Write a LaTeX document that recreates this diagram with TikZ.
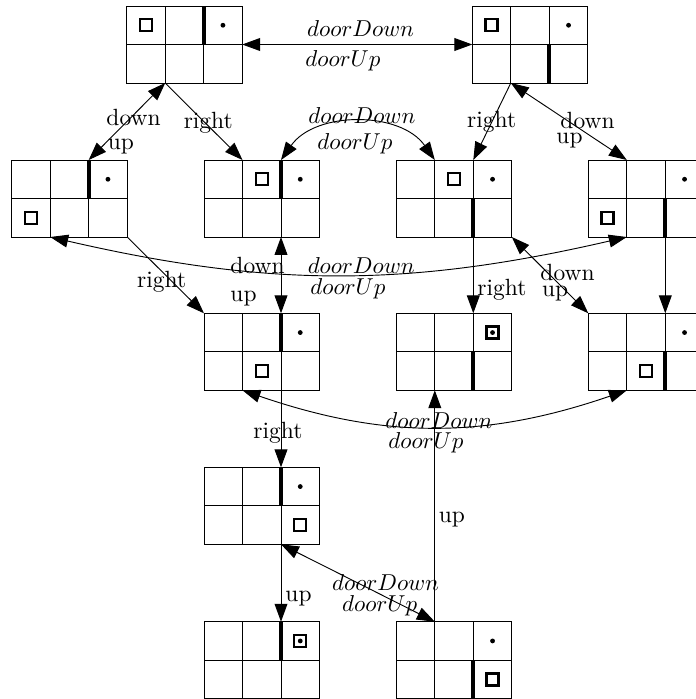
\documentclass[tikz,border=0pt]{standalone}
\usetikzlibrary{arrows.meta,calc}
\begin{document}
\begin{tikzpicture}[x=0.4348pt, y=-0.4348pt,
  state/.style={rectangle, draw, line width=0.4pt, minimum width=50.22pt,
    minimum height=33.48pt, inner sep=0pt, outer sep=0pt, anchor=north west},
  gridline/.style={line width=0.4pt},
  wall/.style={line width=1.87pt},
  agent/.style={line width=0.95pt},
  lbl/.style={inner sep=0pt, anchor=base west, font=\fontsize{10.2}{12}\selectfont},
  oneway/.style={line width=0.4pt, -{Triangle[length=7.8pt,width=5.6pt]}},
  twoway/.style={line width=0.4pt,
    {Triangle[length=7.8pt,width=5.6pt]}-{Triangle[length=7.8pt,width=5.6pt]}}]
\newcommand\cellgrid[1]{%
  \draw[gridline] ([xshift=16.74pt]#1.north west) -- ([xshift=16.74pt]#1.south west);
  \draw[gridline] ([xshift=33.48pt]#1.north west) -- ([xshift=33.48pt]#1.south west);
  \draw[gridline] (#1.west) -- (#1.east);}
% wall between the second and third column, in row #2 (0 = top, 1 = bottom)
\newcommand\wallat[2]{%
  \draw[wall] ([xshift=33.48pt,yshift=-#2*16.74pt]#1.north west) -- ++(0pt,-16.74pt);}
\newcommand\agentat[3]{%
  \draw[agent] ([xshift=#2*16.74pt+8.37pt,yshift=-#3*16.74pt-8.37pt]#1.north west)
    +(-2.6pt,-2.6pt) rectangle +(2.6pt,2.6pt);}
\newcommand\goalat[3]{%
  \fill ([xshift=#2*16.74pt+8.37pt,yshift=-#3*16.74pt-8.37pt]#1.north west)
    circle[radius=1.05pt];}

\useasboundingbox (0,0) rectangle (696,699);
\clip (0,0) rectangle (696,699);

% states
\node[state] (A) at (126.7,6) {};
\node[state] (B) at (472.3,6) {};
\node[state] (C) at (11.7,160) {};
\node[state] (D) at (204,160) {};
\node[state] (E) at (396.3,160) {};
\node[state] (F) at (588.3,160) {};
\node[state] (G) at (204,313.3) {};
\node[state] (H) at (396.3,313.3) {};
\node[state] (I) at (588.3,313.3) {};
\node[state] (J) at (204,467.3) {};
\node[state] (K) at (204,621.7) {};
\node[state] (L) at (396.3,621.7) {};

\foreach \s in {A,B,C,D,E,F,G,H,I,J,K,L} {\cellgrid{\s}}

\wallat{A}{0} \agentat{A}{0}{0} \goalat{A}{2}{0}
\wallat{B}{1} \agentat{B}{0}{0} \goalat{B}{2}{0}
\wallat{C}{0} \agentat{C}{0}{1} \goalat{C}{2}{0}
\wallat{D}{0} \agentat{D}{1}{0} \goalat{D}{2}{0}
\wallat{E}{1} \agentat{E}{1}{0} \goalat{E}{2}{0}
\wallat{F}{1} \agentat{F}{0}{1} \goalat{F}{2}{0}
\wallat{G}{0} \agentat{G}{1}{1} \goalat{G}{2}{0}
\wallat{H}{1} \agentat{H}{2}{0} \goalat{H}{2}{0}
\wallat{I}{1} \agentat{I}{1}{1} \goalat{I}{2}{0}
\wallat{J}{0} \agentat{J}{2}{1} \goalat{J}{2}{0}
\wallat{K}{0} \agentat{K}{2}{0} \goalat{K}{2}{0}
\wallat{L}{1} \agentat{L}{2}{1} \goalat{L}{2}{0}

% transitions
\draw[twoway] (A.east) -- (B.west);
\draw[twoway] ($(A.south west)!1/3!(A.south east)$) -- ($(C.north west)!2/3!(C.north east)$);
\draw[oneway] ($(A.south west)!1/3!(A.south east)$) -- ($(D.north west)!1/3!(D.north east)$);
\draw[twoway] ($(D.north west)!2/3!(D.north east)$) to[bend left=55] ($(E.north west)!1/3!(E.north east)$);
\draw[oneway] ($(B.south west)!1/3!(B.south east)$) -- ($(E.north west)!2/3!(E.north east)$);
\draw[twoway] ($(B.south west)!1/3!(B.south east)$) -- ($(F.north west)!1/3!(F.north east)$);
\draw[oneway] (C.south east) -- (G.north west);
\draw[twoway] ($(C.south west)!1/3!(C.south east)$) to[bend right=13] ($(F.south west)!1/3!(F.south east)$);
\draw[twoway] ($(D.south west)!2/3!(D.south east)$) -- ($(G.north west)!2/3!(G.north east)$);
\draw[oneway] ($(E.south west)!2/3!(E.south east)$) -- ($(H.north west)!2/3!(H.north east)$);
\draw[twoway] (E.south east) -- (I.north west);
\draw[oneway] ($(F.south west)!2/3!(F.south east)$) -- ($(I.north west)!2/3!(I.north east)$);
\draw[twoway] ($(G.south west)!1/3!(G.south east)$) to[bend right=19] ($(I.south west)!1/3!(I.south east)$);
\draw[oneway] ($(G.south west)!2/3!(G.south east)$) -- ($(J.north west)!2/3!(J.north east)$);
\draw[oneway] ($(L.north west)!1/3!(L.north east)$) -- ($(H.south west)!1/3!(H.south east)$);
\draw[oneway] ($(J.south west)!2/3!(J.south east)$) -- ($(K.north west)!2/3!(K.north east)$);
\draw[twoway] ($(J.south west)!2/3!(J.south east)$) -- ($(L.north west)!1/3!(L.north east)$);

% labels
\node[lbl] (t1a) at (306.7,36.7) {$doorDown$};
\node[lbl] (t1b) at (305,66) {$doorUp$};
\node[lbl] (t2a) at (106,125) {down};
\node[lbl] (t2b) at (107.3,149) {up};
\node[lbl] (t3) at (183.3,128) {right};
\node[lbl] (t4a) at (308,123.5) {$doorDown$};
\node[lbl] (t4b) at (317,149) {$doorUp$};
\node[lbl] (t5) at (466.7,127) {right};
\node[lbl] (t6a) at (560,128.3) {down};
\node[lbl] (t6b) at (556,143) {up};
\node[lbl] (t7) at (136.7,287) {right};
\node[lbl] (t8a) at (307.3,273.3) {$doorDown$};
\node[lbl] (t8b) at (310,294) {$doorUp$};
\node[lbl] (t9a) at (230,273.3) {down};
\node[lbl] (t9b) at (230,301) {up};
\node[lbl] (t10) at (477,295) {right};
\node[lbl] (t11a) at (540,280) {down};
\node[lbl] (t11b) at (541.7,296.7) {up};
\node[lbl] (t13a) at (385,428.3) {$doorDown$};
\node[lbl] (t13b) at (388,448) {$doorUp$};
\node[lbl] (t14) at (253,438.3) {right};
\node[lbl] (t15) at (438.3,522.7) {up};
\node[lbl] (t16) at (285,601.7) {up};
\node[lbl] (t17a) at (331.7,590) {$doorDown$};
\node[lbl] (t17b) at (341.7,611.7) {$doorUp$};
\end{tikzpicture}
\end{document}
